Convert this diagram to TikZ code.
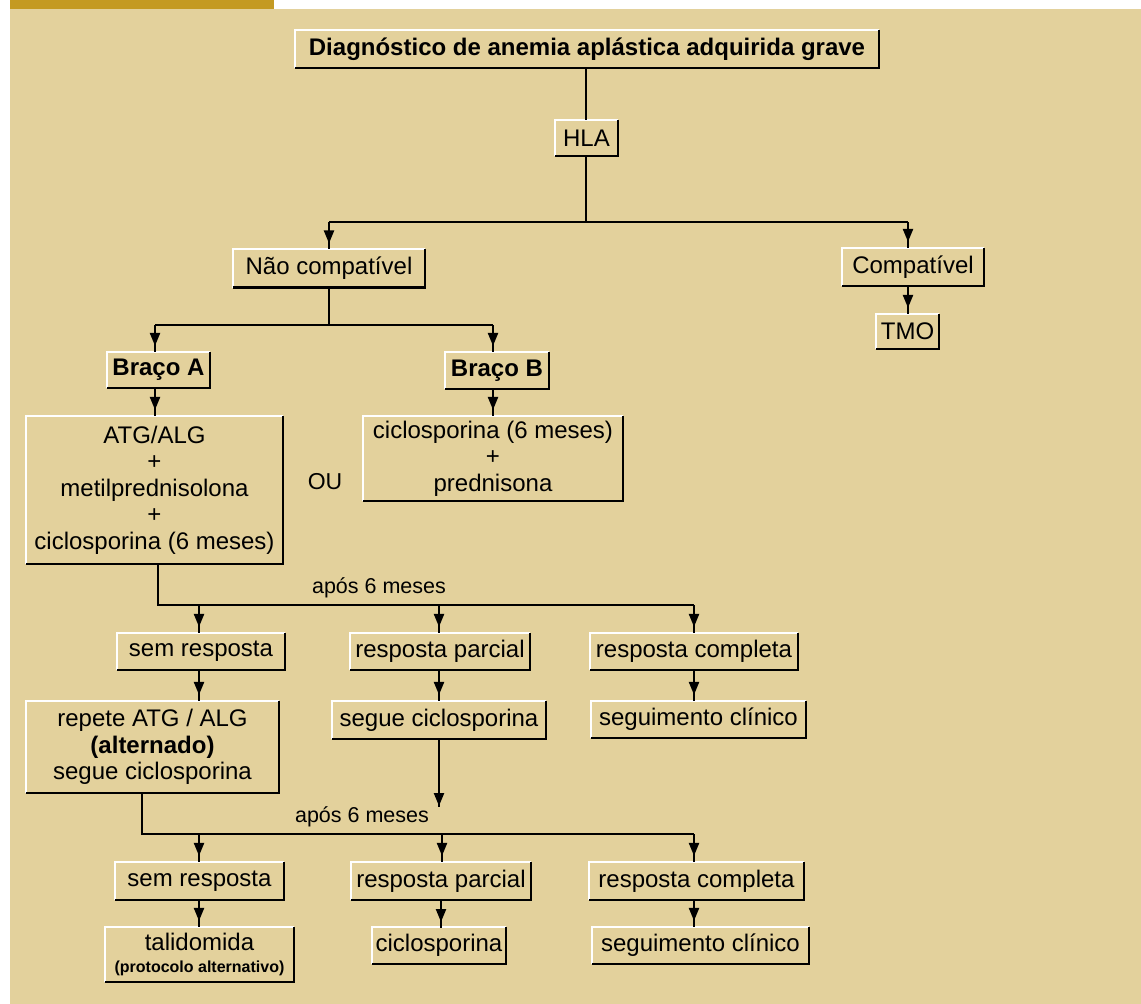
\documentclass[tikz,border=0pt]{standalone}
\usepackage{fontspec}
\setmainfont{Liberation Sans}
\usetikzlibrary{arrows.meta}
\definecolor{bgbeige}{RGB}{227,209,156}
\definecolor{bargold}{RGB}{196,154,34}
\newcommand{\fsz}{\fontsize{24}{26.5}\selectfont}
\newcommand{\fsl}{\fontsize{21.5}{24}\selectfont}
\newcommand{\arrowto}[2]{\draw #1 -- #2; \draw[tipline] #1 -- #2;}
\begin{document}
\begin{tikzpicture}[x=1pt,y=-1pt,line width=2.2pt,
  bx/.style={inner sep=0pt,font=\fsz,align=center,text=black},
  tipline/.style={-{Triangle[width=10pt,length=13pt]},shorten >=6pt},
  lbl/.style={inner sep=0pt,font=\fsl,text=black}]
\useasboundingbox (0,0) rectangle (1141,1004);
\fill[white] (0,0) rectangle (1141,1004);
\fill[bargold] (10,0) rectangle (274,9);
\fill[bgbeige] (10,9) rectangle (1141,1004);

% nodes
\node[bx,minimum width=582pt,minimum height=36pt,font=\fsz\bfseries] (diag) at (587,49) {Diagnóstico de anemia aplástica adquirida grave};
\node[bx,minimum width=61pt,minimum height=34pt] (hla) at (586.5,138) {HLA};
\node[bx,minimum width=190pt,minimum height=36pt] (nao) at (329,268.5) {Não compatível};
\node[bx,minimum width=140pt,minimum height=36pt] (comp) at (913,267) {Compatível};
\node[bx,minimum width=61pt,minimum height=33pt] (tmo) at (907.5,331.5) {TMO};
\node[bx,minimum width=101pt,minimum height=34pt,font=\fsz\bfseries] (bracoA) at (158.5,370) {Braço A};
\node[bx,minimum width=102pt,minimum height=35pt,font=\fsz\bfseries] (bracoB) at (497,370.5) {Braço B};
\node[bx,minimum width=255pt,minimum height=146pt] (atg) at (154.5,490) {ATG/ALG\\+\\metilprednisolona\\+\\ciclosporina (6 meses)};
\node[bx,minimum width=258pt,minimum height=83pt] (ciclo) at (493,458.5) {ciclosporina (6 meses)\\+\\prednisona};
\node[bx,minimum width=166pt,minimum height=35pt] (sem1) at (201,651.5) {sem resposta};
\node[bx,minimum width=178pt,minimum height=35pt] (parc1) at (440,651.5) {resposta parcial};
\node[bx,minimum width=206pt,minimum height=35pt] (comp1) at (694,651.5) {resposta completa};
\node[bx,minimum width=251pt,minimum height=90pt] (repete) at (152.5,747) {repete ATG / ALG\\\textbf{(alternado)}\\segue ciclosporina};
\node[bx,minimum width=212pt,minimum height=36pt] (segue) at (439,720) {segue ciclosporina};
\node[bx,minimum width=213pt,minimum height=35pt] (seg1) at (698.5,719.5) {seguimento clínico};
\node[bx,minimum width=167pt,minimum height=36pt] (sem2) at (199.5,881) {sem resposta};
\node[bx,minimum width=178pt,minimum height=36pt] (parc2) at (441,881) {resposta parcial};
\node[bx,minimum width=213pt,minimum height=36pt] (comp2) at (696.5,881) {resposta completa};
\node[bx,minimum width=187pt,minimum height=53pt] (tali) at (199.5,954.5) {talidomida\\[-4.5pt]{\fontsize{16}{18}\selectfont\bfseries (protocolo alternativo)}};
\node[bx,minimum width=132pt,minimum height=35pt] (ciclo2) at (439,945.5) {ciclosporina};
\node[bx,minimum width=215pt,minimum height=35pt] (seg2) at (700.5,945.5) {seguimento clínico};

\node[lbl,font=\fontsize{23}{26}\selectfont] (ou) at (325,482) {OU};
\node[lbl] (lab1) at (379,588) {após 6 meses};
\node[lbl] (lab2) at (362,817) {após 6 meses};

% bevel borders
\foreach \n in {diag,hla,nao,comp,tmo,bracoA,bracoB,atg,ciclo,sem1,parc1,comp1,repete,segue,seg1,sem2,parc2,comp2,tali,ciclo2,seg2}{
  \draw[white,line width=2pt] (\n.south west) |- (\n.north east);
  \draw[black,line width=2.4pt] (\n.south west) -| (\n.north east);
}

% junction coordinates
\coordinate (j1) at (586,222);
\coordinate (j1l) at (329,222);
\coordinate (j1r) at (908,222);
\coordinate (j2) at (329,325);
\coordinate (j2l) at (155,325);
\coordinate (j2r) at (493,325);
\coordinate (j3l) at (158,605);
\coordinate (a1) at (199,605);
\coordinate (a2) at (439,605);
\coordinate (j3r) at (694,605);
\coordinate (fe) at (439,807);
\coordinate (j4l) at (142,834);
\coordinate (b1) at (199,834);
\coordinate (b2) at (442,834);
\coordinate (j4r) at (694,834);

% connectors
\draw (diag.south -| j1) -- (hla.north -| j1);
\draw (hla.south -| j1) -- (j1);
\draw (j1l) -- (j1r);
\arrowto{(j1l)}{(nao.north)}
\arrowto{(j1r)}{(j1r |- comp.north)}
\arrowto{(j1r |- comp.south)}{(j1r |- tmo.north)}
\draw (nao.south) -- (j2);
\draw (j2l) -- (j2r);
\arrowto{(j2l)}{(j2l |- bracoA.north)}
\arrowto{(j2r)}{(j2r |- bracoB.north)}
\arrowto{(j2l |- bracoA.south)}{(j2l |- atg.north)}
\arrowto{(j2r |- bracoB.south)}{(j2r |- ciclo.north)}
\draw (j3l |- atg.south) -- (j3l) -- (j3r);
\arrowto{(a1)}{(a1 |- sem1.north)}
\arrowto{(a2)}{(a2 |- parc1.north)}
\arrowto{(j3r)}{(j3r |- comp1.north)}
\arrowto{(a1 |- sem1.south)}{(a1 |- repete.north)}
\arrowto{(a2 |- parc1.south)}{(a2 |- segue.north)}
\arrowto{(j3r |- comp1.south)}{(j3r |- seg1.north)}
\draw (a2 |- segue.south) -- (fe);
\draw[-{Triangle[width=10pt,length=13pt]},shorten >=1pt] (a2 |- segue.south) -- (fe);
\draw (j4l |- repete.south) -- (j4l) -- (j4r);
\arrowto{(b1)}{(b1 |- sem2.north)}
\arrowto{(b2)}{(b2 |- parc2.north)}
\arrowto{(j4r)}{(j4r |- comp2.north)}
\arrowto{(b1 |- sem2.south)}{(b1 |- tali.north)}
\arrowto{(441,899)}{(441,928)}
\arrowto{(j4r |- comp2.south)}{(j4r |- seg2.north)}
\end{tikzpicture}
\end{document}
